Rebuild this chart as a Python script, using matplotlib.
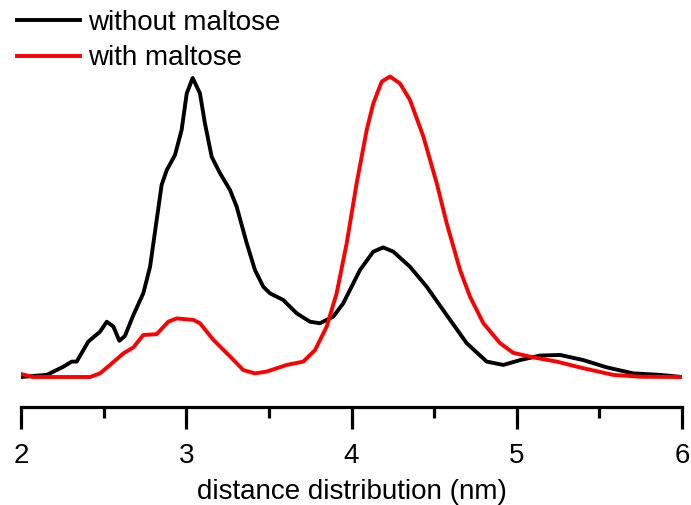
import numpy as np
import matplotlib
matplotlib.use('Agg')
import matplotlib.pyplot as plt
from matplotlib.ticker import MultipleLocator

plt.rcParams['font.family'] = 'Liberation Sans'

# distance distributions (arbitrary units, normalised)
x_without = [2.0, 2.156, 2.256, 2.307, 2.337, 2.407, 2.478, 2.519, 2.559, 2.595,
             2.629, 2.680, 2.740, 2.781, 2.821, 2.851, 2.882, 2.932, 2.972, 3.003,
             3.039, 3.083, 3.113, 3.154, 3.204, 3.265, 3.305, 3.366, 3.416, 3.466,
             3.507, 3.587, 3.668, 3.749, 3.809, 3.890, 3.950, 4.051, 4.132, 4.192,
             4.253, 4.354, 4.455, 4.576, 4.697, 4.818, 4.919, 5.020, 5.141, 5.262,
             5.403, 5.544, 5.705, 5.867, 6.0]
y_without = [0.0, 0.007, 0.034, 0.051, 0.051, 0.117, 0.150, 0.183, 0.167, 0.120,
             0.136, 0.205, 0.277, 0.365, 0.520, 0.636, 0.685, 0.735, 0.818, 0.939,
             0.99, 0.939, 0.840, 0.729, 0.675, 0.619, 0.564, 0.443, 0.354, 0.299,
             0.277, 0.255, 0.211, 0.183, 0.178, 0.200, 0.244, 0.354, 0.415, 0.429,
             0.415, 0.365, 0.299, 0.205, 0.112, 0.051, 0.040, 0.056, 0.071, 0.073,
             0.056, 0.032, 0.012, 0.007, 0.0]

x_with = [2.0, 2.074, 2.418, 2.478, 2.539, 2.619, 2.680, 2.740, 2.821, 2.891,
          2.942, 3.043, 3.083, 3.164, 3.265, 3.345, 3.416, 3.487, 3.608, 3.708,
          3.779, 3.850, 3.910, 3.971, 4.031, 4.092, 4.132, 4.183, 4.233, 4.293,
          4.354, 4.435, 4.516, 4.576, 4.657, 4.717, 4.798, 4.899, 4.979, 5.100,
          5.242, 5.403, 5.584, 5.746, 6.0]
y_with = [0.010, 0.0, 0.0, 0.012, 0.040, 0.078, 0.098, 0.139, 0.142, 0.183,
          0.194, 0.189, 0.178, 0.123, 0.068, 0.023, 0.012, 0.018, 0.040, 0.051,
          0.089, 0.167, 0.277, 0.443, 0.641, 0.818, 0.906, 0.978, 0.995, 0.972,
          0.917, 0.796, 0.641, 0.509, 0.354, 0.266, 0.178, 0.112, 0.080, 0.065,
          0.051, 0.029, 0.007, 0.001, 0.0]

fig = plt.figure(figsize=(6.91, 5.05), dpi=100)
ax = fig.add_axes([21/691, 98/505, 661/691, 387/505])

ax.plot(x_without, y_without, color='black', lw=2.8, label='without maltose')
ax.plot(x_with, y_with, color='red', lw=2.8, label='with maltose')

ax.set_xlim(2, 6)
ax.set_ylim(-0.0993, 1.182)

# only the bottom axis is shown
for side in ['left', 'right', 'top']:
    ax.spines[side].set_visible(False)
ax.spines['bottom'].set_linewidth(2.3)
ax.set_yticks([])
ax.xaxis.set_major_locator(MultipleLocator(1))
ax.xaxis.set_minor_locator(MultipleLocator(0.5))
ax.tick_params(axis='x', which='major', direction='out', length=16, width=2.3,
               labelsize=20, pad=10)
ax.tick_params(axis='x', which='minor', direction='out', length=8, width=2.3)
ax.set_xlabel('distance distribution (nm)', fontsize=20, labelpad=7)

ax.legend(loc='upper left', bbox_to_anchor=(17/691, 1 - 10/505),
          bbox_transform=fig.transFigure, frameon=False, fontsize=20,
          handlelength=2.27, handletextpad=0.3, labelspacing=0.34,
          borderpad=0, borderaxespad=0)
for line in ax.get_legend().get_lines():
    line.set_linewidth(2.8)

fig.savefig('out.png', dpi=100)
